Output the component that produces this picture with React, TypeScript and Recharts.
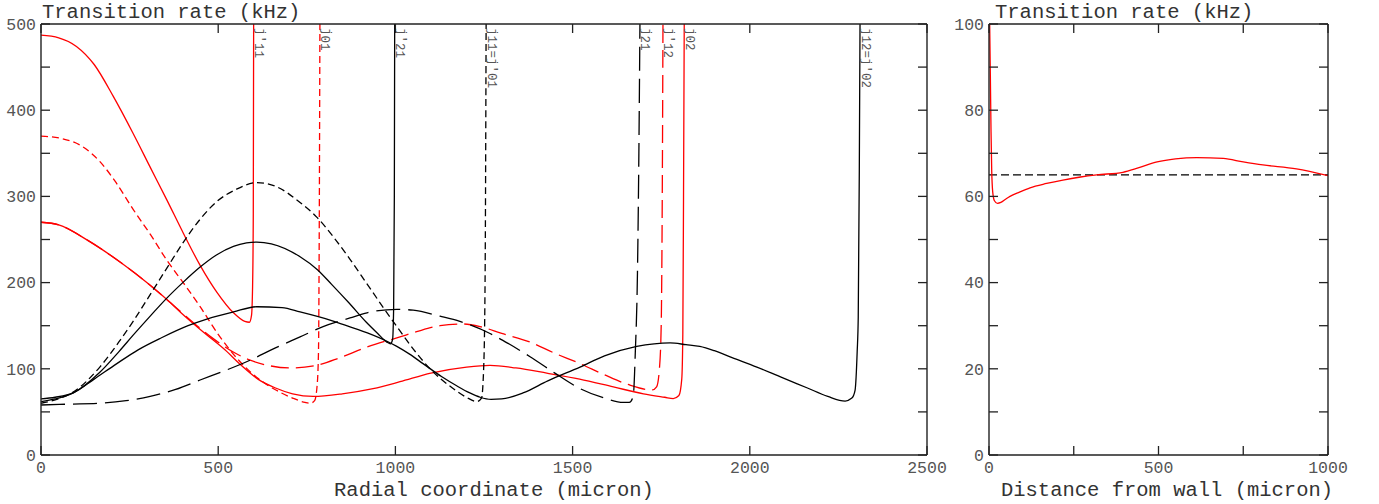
import React from 'react';
import { LineChart, Line, XAxis, YAxis, ReferenceLine } from 'recharts';

type Pt = [number, number];

// left panel, radial coordinate (micron) vs transition rate (kHz)
// each curve ends where it shoots up at its Bessel zero
const jp11: Pt[] = [
  [0, 487], [50, 484], [100, 474], [150, 453], [204, 416], [260, 373], [308, 334], [355, 296],
  [402, 257], [449, 220], [496, 189], [543, 165], [575, 155], [588, 154], [594, 162], [597, 195],
  [599, 280], [600, 500],
];
const j01: Pt[] = [
  [0, 370], [60, 367], [120, 357], [167, 340], [210, 317], [260, 285], [310, 255],
  [355, 226], [410, 195], [449, 172], [505, 137], [560, 109], [612, 89],
  [660, 76], [710, 66], [745, 61], [760, 60], [772, 63], [779, 80], [783, 120], [785, 250], [787, 500],
];
const j02: Pt[] = [
  [0, 270], [50, 267], [132, 249], [226, 223], [302, 199], [367, 176], [395, 165], [463, 141],
  [519, 122], [565, 104], [612, 88], [660, 78], [710, 71], [768, 68], [850, 71], [937, 77],
  [1013, 85], [1100, 95], [1201, 102], [1267, 104], [1340, 101], [1427, 95], [1520, 88],
  [1615, 79], [1700, 71], [1760, 67], [1784, 65.5], [1800, 69], [1808, 88], [1811, 140],
  [1813, 300], [1815, 500],
];
const jp12: Pt[] = [
  [0, 270], [50, 267], [132, 249], [226, 223], [302, 199], [367, 176], [395, 166], [440, 150],
  [486, 135], [540, 120], [590, 110], [640, 104], [703, 101], [778, 104], [844, 113], [918, 125],
  [1013, 137], [1060, 143], [1126, 150], [1190, 152], [1239, 149], [1300, 141], [1380, 131],
  [1450, 118], [1521, 106], [1590, 93], [1662, 81], [1709, 76], [1725, 75.5], [1737, 79],
  [1745, 100], [1750, 150], [1753, 300], [1755, 500],
];
const j11: Pt[] = [
  [0, 60], [40, 64], [91, 73], [166, 102], [223, 133], [260, 155], [308, 186], [360, 220],
  [402, 247], [450, 274], [496, 294], [550, 308], [609, 316], [660, 312], [731, 293], [778, 276],
  [825, 253], [872, 227], [919, 199], [966, 171], [1004, 149], [1060, 118], [1100, 99], [1160, 78],
  [1200, 67], [1230, 62], [1243, 66], [1249, 100], [1253, 200], [1256, 500],
];
const jp21: Pt[] = [
  [0, 62], [40, 65], [91, 72], [166, 96], [220, 120], [260, 139], [310, 162], [355, 182],
  [400, 200], [449, 218], [495, 232], [543, 242], [580, 246], [609, 247], [650, 245], [731, 230],
  [780, 215], [820, 198], [870, 176], [918, 154], [950, 141], [976, 131], [986, 129], [992, 134],
  [995, 170], [997, 300], [998, 500],
];
const j12: Pt[] = [
  [0, 65], [40, 67], [91, 72], [150, 88], [214, 106], [274, 122], [340, 136], [415, 150],
  [470, 158], [543, 166], [609, 172], [680, 171], [731, 166], [820, 156], [870, 149], [919, 142],
  [976, 132], [1004, 126], [1040, 117], [1078, 106], [1130, 91], [1174, 80], [1210, 72], [1239, 67],
  [1270, 64.5], [1300, 65], [1360, 72], [1430, 86], [1521, 102], [1590, 115], [1681, 126],
  [1730, 129], [1775, 130], [1820, 128], [1859, 126], [1900, 121], [1950, 113], [2020, 102],
  [2090, 90], [2161, 78], [2220, 68], [2269, 62.6], [2288, 66], [2297, 75], [2303, 120],
  [2306, 160], [2309, 330], [2311, 500],
];
const j21: Pt[] = [
  [0, 58], [80, 59], [166, 60], [240, 63], [308, 68], [380, 76], [449, 87], [520, 98], [590, 110],
  [660, 124], [731, 137], [796, 149], [872, 159], [920, 165], [1004, 169], [1050, 168],
  [1126, 161], [1182, 155], [1267, 141], [1320, 129], [1380, 114], [1450, 95], [1521, 77],
  [1590, 66], [1643, 61], [1660, 61], [1671, 68], [1677, 120], [1683, 211], [1687, 350],
  [1690, 500],
];
const modeLabels = [
  { x: 600, text: 'j′11' },
  { x: 787, text: 'j01' },
  { x: 998, text: 'j′21' },
  { x: 1256, text: 'j11=j′01' },
  { x: 1690, text: 'j21' },
  { x: 1755, text: 'j′12' },
  { x: 1815, text: 'j02' },
  { x: 2311, text: 'j12=j′02' },
];
const radialTicks = [0, 500, 1000, 1500, 2000, 2500];
const rateTicks = [0, 100, 200, 300, 400, 500];
const rateMinorTicks = [0, 50, 100, 150, 200, 250, 300, 350, 400, 450, 500];

// right panel, distance from wall (micron)
const wallRate: Pt[] = [
  [2, 100], [4, 88], [6, 75], [8, 66], [11, 61], [16, 59], [25, 58.4], [35, 58.6], [50, 59.4],
  [62, 60], [90, 61], [121, 62], [170, 63], [218, 63.8], [270, 64.5], [318, 65], [395, 65.6],
  [440, 66.6], [496, 68], [550, 68.7], [613, 69], [691, 68.8], [750, 68], [808, 67.3],
  [907, 66.4], [1000, 64.8],
];
const wallRef: Pt[] = [[0, 65], [1000, 65]];
const wallTicks = [0, 500, 1000];
const wallMinorTicks = [0, 250, 500, 750, 1000];
const wallRateTicks = [0, 20, 40, 60, 80, 100];
const wallRateMinorTicks = [0, 10, 20, 30, 40, 50, 60, 70, 80, 90, 100];

const toData = (pts: Pt[]) => pts.map(([x, y]) => ({ x, y }));

const FONT = "'Liberation Mono', 'DejaVu Sans Mono', monospace";
const AXIS = '#222';
const tickStyle = { fill: '#555', fontSize: 16.5, fontFamily: FONT };
const tickLineStyle = { stroke: AXIS, strokeWidth: 1.3 };
const axisLineStyle = { stroke: AXIS, strokeWidth: 1.4 };

// mirrored axes only carry the inward tick marks
const NoLabel = () => <g />;

const ModeLabel = (props: any) => {
  const { viewBox, text } = props;
  if (!viewBox) return null;
  const x = viewBox.x + 3;
  const y = viewBox.y + 4;
  const parts: { s: string; sub: boolean }[] = [];
  for (const ch of text as string) {
    const sub = /[0-9]/.test(ch);
    const last = parts[parts.length - 1];
    if (last && last.sub === sub) last.s += ch;
    else parts.push({ s: ch, sub });
  }
  let prev = false;
  return (
    <text x={x} y={y} transform={`rotate(90 ${x} ${y})`} fill="#555" fontSize={12.5} fontFamily={FONT}>
      {parts.map((p, i) => {
        const dy = p.sub === prev ? 0 : p.sub ? 1.5 : -1.5;
        prev = p.sub;
        return (
          <tspan key={i} dy={dy}>
            {p.s}
          </tspan>
        );
      })}
    </text>
  );
};

const curve = (key: string, pts: Pt[], color: string, dash?: string) => (
  <Line
    key={key}
    xAxisId="x"
    yAxisId="y"
    data={toData(pts)}
    dataKey="y"
    type="monotone"
    stroke={color}
    strokeWidth={1.3}
    strokeDasharray={dash}
    dot={false}
    activeDot={false}
    isAnimationActive={false}
  />
);

const axes = (xMax: number, xLab: number[], xMinor: number[], yMax: number, yLab: number[], yMinor: number[], yWidth: number) => [
  <XAxis
    key="x" xAxisId="x" type="number" dataKey="x" domain={[0, xMax]} allowDataOverflow
    ticks={xLab} interval={0} height={49} tickSize={0} tickMargin={6}
    tickLine={false} axisLine={axisLineStyle} tick={tickStyle}
  />,
  <XAxis
    key="xb" xAxisId="xb" type="number" dataKey="x" domain={[0, xMax]} allowDataOverflow mirror
    ticks={xMinor} interval={0} tickSize={9} tick={NoLabel} axisLine={false} tickLine={tickLineStyle}
  />,
  <XAxis
    key="xt" xAxisId="xt" type="number" dataKey="x" orientation="top" domain={[0, xMax]} allowDataOverflow mirror
    ticks={xMinor} interval={0} tickSize={9} tick={NoLabel} axisLine={axisLineStyle} tickLine={tickLineStyle}
  />,
  <YAxis
    key="y" yAxisId="y" type="number" domain={[0, yMax]} allowDataOverflow ticks={yLab} interval={0}
    width={yWidth} tickSize={0} tickMargin={5} tickLine={false} axisLine={axisLineStyle} tick={tickStyle}
  />,
  <YAxis
    key="yl" yAxisId="yl" type="number" domain={[0, yMax]} allowDataOverflow mirror ticks={yMinor}
    interval={0} tickSize={9} tick={NoLabel} axisLine={false} tickLine={tickLineStyle}
  />,
  <YAxis
    key="yr" yAxisId="yr" type="number" orientation="right" domain={[0, yMax]} allowDataOverflow mirror
    ticks={yMinor} interval={0} tickSize={9} tick={NoLabel} axisLine={axisLineStyle} tickLine={tickLineStyle}
  />,
];

export default function App() {
  return (
    <div style={{ position: 'absolute', left: 0, top: 0, width: 1379, height: 504, background: '#fff' }}>
      <div style={{ position: 'absolute', left: 940, top: 0 }}>
        <LineChart width={439} height={504} margin={{ top: 24, right: 51, bottom: 0, left: 0 }}>
          {axes(1000, wallTicks, wallMinorTicks, 100, wallRateTicks, wallRateMinorTicks, 49)}
          {curve('wallRef', wallRef, '#000', '8 4')}
          {curve('wallRate', wallRate, '#ff0000')}
        </LineChart>
      </div>
      <div style={{ position: 'absolute', left: 0, top: 0 }}>
        <LineChart width={962} height={504} margin={{ top: 24, right: 35, bottom: 0, left: 0 }}>
          {axes(2500, radialTicks, radialTicks, 500, rateTicks, rateMinorTicks, 41)}
          {curve('jp11', jp11, '#ff0000')}
          {curve('j01', j01, '#ff0000', '7 4')}
          {curve('j02', j02, '#ff0000')}
          {curve('jp12', jp12, '#ff0000', '18 7')}
          {curve('j11', j11, '#000', '7 4')}
          {curve('jp21', jp21, '#000')}
          {curve('j12', j12, '#000')}
          {curve('j21', j21, '#000', '24 8')}
          {modeLabels.map((m) => (
            <ReferenceLine
              key={m.text}
              xAxisId="x"
              yAxisId="y"
              x={m.x}
              stroke="none"
              label={<ModeLabel text={m.text} />}
            />
          ))}
        </LineChart>
      </div>
      <svg width={1379} height={504} style={{ position: 'absolute', left: 0, top: 0, pointerEvents: 'none' }}>
        <g fontFamily={FONT} fontSize={20.5} fill="#333">
          <text x={42} y={18}>Transition rate (kHz)</text>
          <text x={995} y={18}>Transition rate (kHz)</text>
          <text x={494} y={496} textAnchor="middle">Radial coordinate (micron)</text>
          <text x={1167} y={496} textAnchor="middle">Distance from wall (micron)</text>
        </g>
      </svg>
    </div>
  );
}
